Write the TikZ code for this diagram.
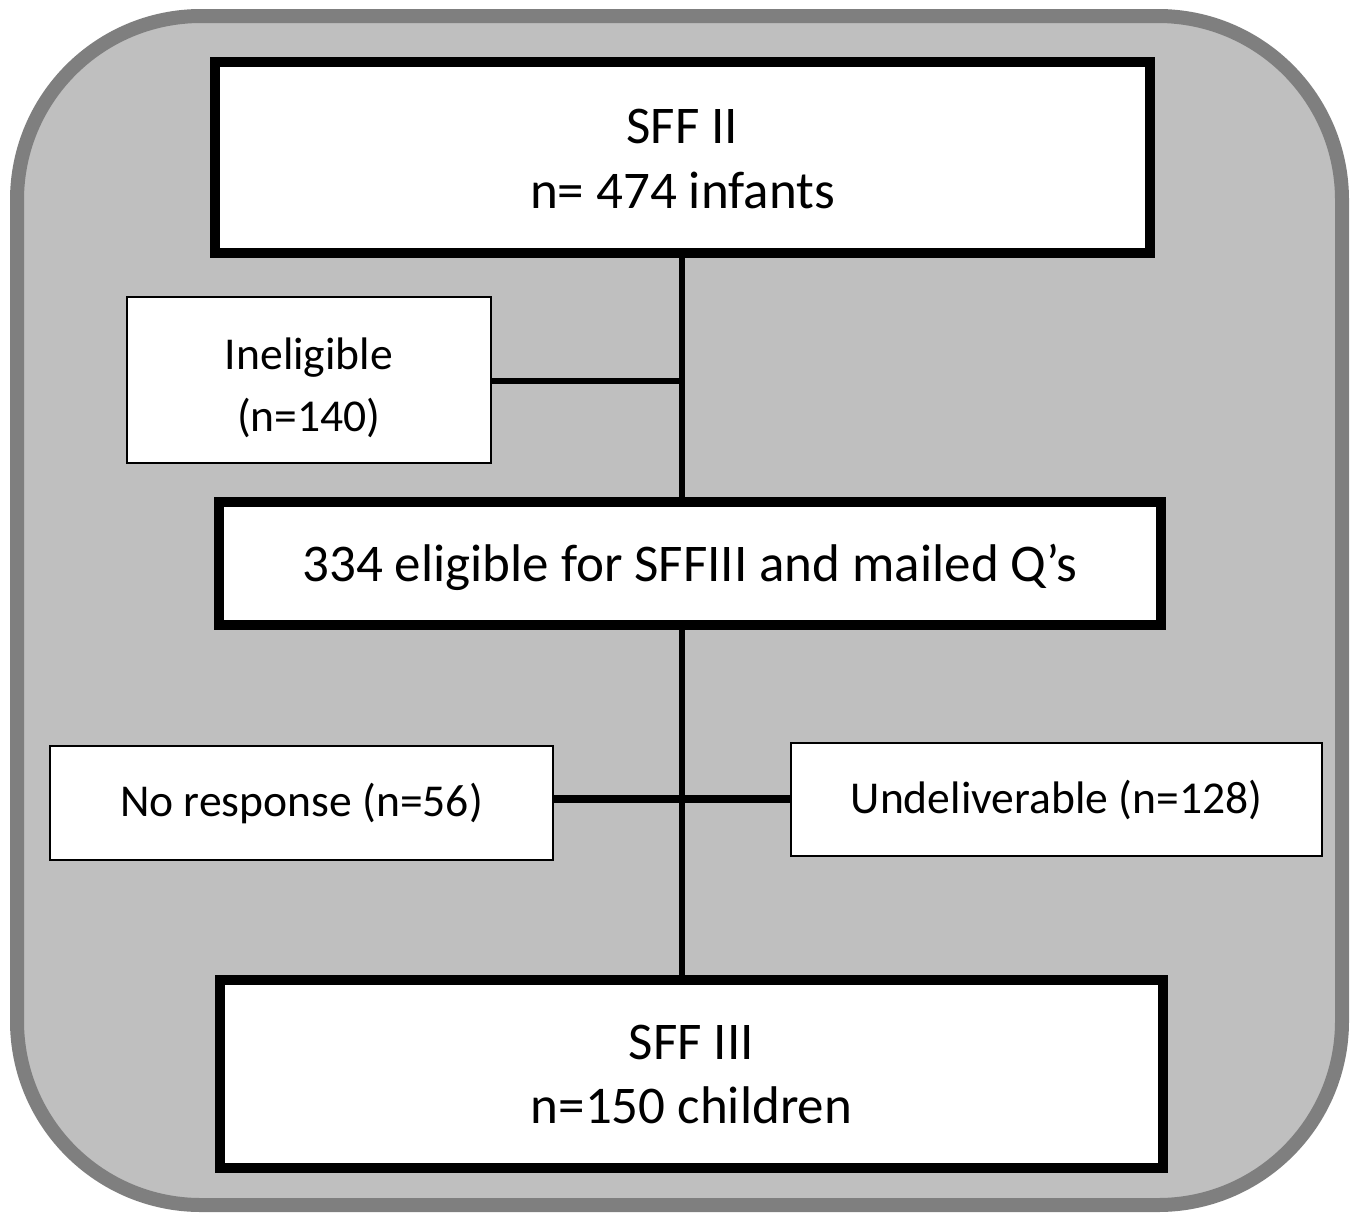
\documentclass[tikz,border=0pt]{standalone}
\usepackage{fontspec}
\setmainfont{Carlito}
\definecolor{panelfill}{HTML}{BFBFBF}
\definecolor{panelline}{HTML}{7F7F7F}
\newcommand{\lowerby}[2]{\raisebox{-#1}[\height][\depth]{#2}}
\begin{document}
\begin{tikzpicture}[x=0.5pt,y=-0.5pt,
  bigbox/.style={draw=black,fill=white,line width=5pt,align=center,inner sep=0pt,
     font=\fontsize{26.5}{32}\selectfont},
  smallbox/.style={draw=black,fill=white,line width=1pt,align=center,inner sep=0pt,
     font=\fontsize{22.8}{31}\selectfont},
  link/.style={draw=black,line width=3pt},
  thicklink/.style={draw=black,line width=4pt}]
\useasboundingbox (0,0) rectangle (1358,1216);
\draw[fill=panelfill,draw=panelline,line width=7pt,rounded corners=92pt] (17,16) rectangle (1342,1205);
\coordinate (spine) at (682,0);
\coordinate (hy) at (0,799);
\coordinate (iy) at (0,381);
\node[bigbox,minimum width=467.5pt,minimum height=95.5pt] (top) at (682.5,157.5) {\lowerby{3pt}{\begin{tabular}{@{}c@{}}SFF II\\[0.5pt]n= 474 infants\end{tabular}}};
\node[smallbox,minimum width=182pt,minimum height=83pt] (inel) at (309,380) {\lowerby{3.8pt}{\begin{tabular}{@{}c@{}}Ineligible\\(n=140)\end{tabular}}};
\node[bigbox,minimum width=471pt,minimum height=61.5pt] (mid) at (690,563.5) {\lowerby{2pt}{334 eligible for SFFIII and mailed Q’s}};
\node[smallbox,minimum width=251.5pt,minimum height=57pt] (nr) at (301.5,803) {No response (n=56)};
\node[smallbox,minimum width=265.5pt,minimum height=56.5pt] (ud) at (1056.5,799.5) {Undeliverable (n=128)};
\node[bigbox,minimum width=471.5pt,minimum height=94pt] (bot) at (691.5,1074) {SFF III\\n=150 children};
\draw[link] (top.south -| spine) -- (mid.north -| spine);
\draw[link] (inel.east |- iy) -- (spine |- iy);
\draw[link] (mid.south -| spine) -- (bot.north -| spine);
\draw[thicklink] (nr.east |- hy) -- (ud.west |- hy);
\end{tikzpicture}
\end{document}
